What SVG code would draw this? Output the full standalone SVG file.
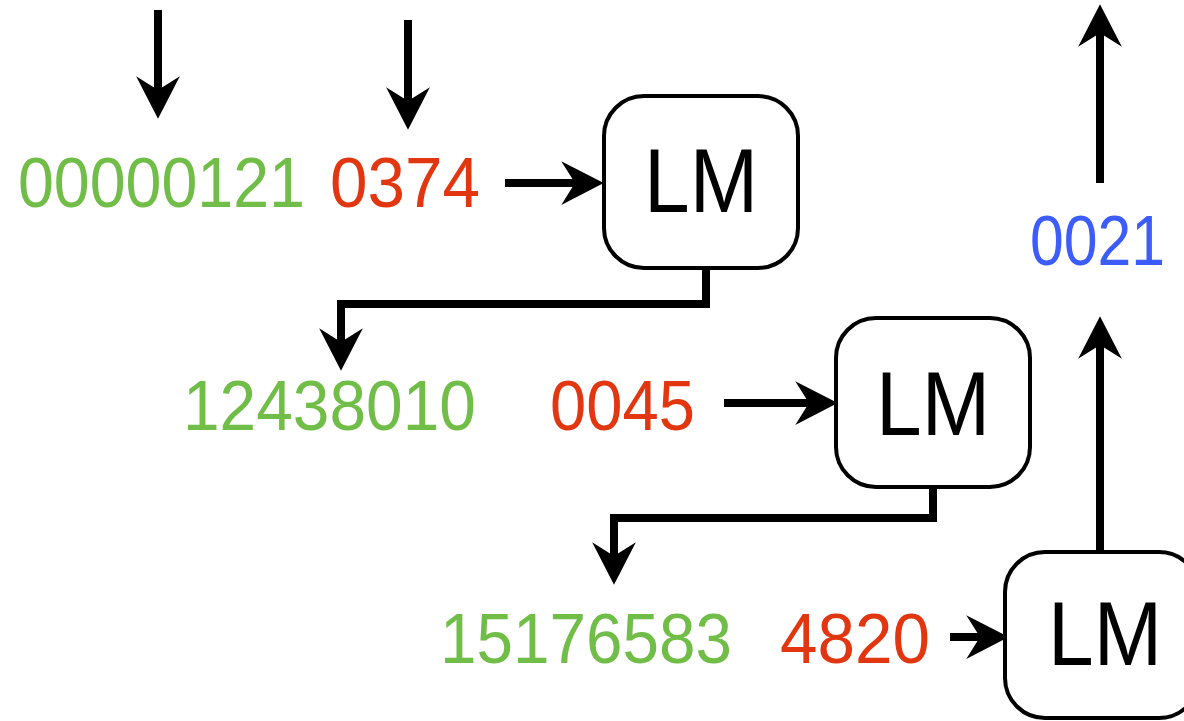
<svg xmlns="http://www.w3.org/2000/svg" width="1184" height="721" viewBox="0 0 1184 721">
<style>
.t{font-family:"Liberation Sans",Arial,sans-serif;font-size:70px}
.g{fill:#70bd47}
.r{fill:#e23610}
.b{fill:#3c5cfb}
.box{fill:#fff;stroke:#000;stroke-width:4}
.lm{font-family:"Liberation Sans",Arial,sans-serif;font-size:90px;fill:#000;text-anchor:middle}
.c{fill:none;stroke:#000;stroke-width:8;stroke-linejoin:miter;marker-end:url(#ah)}
</style>
<defs>
<marker id="ah" markerUnits="userSpaceOnUse" markerWidth="50" markerHeight="50" viewBox="-12 -20 40 40" refX="0" refY="0" orient="auto" overflow="visible">
<path d="M23 0 L-11 -17.5 L0 0 L-11 17.5 Z" fill="#000"/>
</marker>
</defs>
<rect width="1184" height="721" fill="#fff"/>
<g id="connectors">
<path class="c" d="M158 10 V90"/>
<path class="c" d="M408 20 V101"/>
<path class="c" d="M505 183 H575"/>
<path class="c" d="M706 268 V304 H341 V342"/>
<path class="c" d="M724 403 H809"/>
<path class="c" d="M933 487 V518 H614 V556"/>
<path class="c" d="M950 637 H980"/>
<path class="c" d="M1100 551 V345"/>
<path class="c" d="M1100 183 V33"/>
</g>
<g id="row1">
<text class="t g" x="18" y="207" textLength="287" lengthAdjust="spacingAndGlyphs">00000121</text>
<text class="t r" x="330" y="207" textLength="150" lengthAdjust="spacingAndGlyphs">0374</text>
</g>
<g id="lm1">
<rect class="box" x="604" y="96" width="194" height="172" rx="40"/>
<text class="lm" x="701" y="212" textLength="114" lengthAdjust="spacingAndGlyphs">LM</text>
</g>
<g id="row2">
<text class="t g" x="183" y="430" textLength="293" lengthAdjust="spacingAndGlyphs">12438010</text>
<text class="t r" x="550" y="430" textLength="145" lengthAdjust="spacingAndGlyphs">0045</text>
</g>
<g id="lm2">
<rect class="box" x="836" y="318" width="194" height="169" rx="40"/>
<text class="lm" x="933" y="435" textLength="114" lengthAdjust="spacingAndGlyphs">LM</text>
</g>
<g id="row3">
<text class="t g" x="440" y="663" textLength="292" lengthAdjust="spacingAndGlyphs">15176583</text>
<text class="t r" x="780" y="663" textLength="150" lengthAdjust="spacingAndGlyphs">4820</text>
</g>
<g id="lm3">
<rect class="box" x="1005" y="552" width="194" height="166" rx="40"/>
<text class="lm" x="1105" y="665" textLength="114" lengthAdjust="spacingAndGlyphs">LM</text>
</g>
<g id="output">
<text class="t b" x="1030" y="265" textLength="135" lengthAdjust="spacingAndGlyphs">0021</text>
</g>
</svg>
